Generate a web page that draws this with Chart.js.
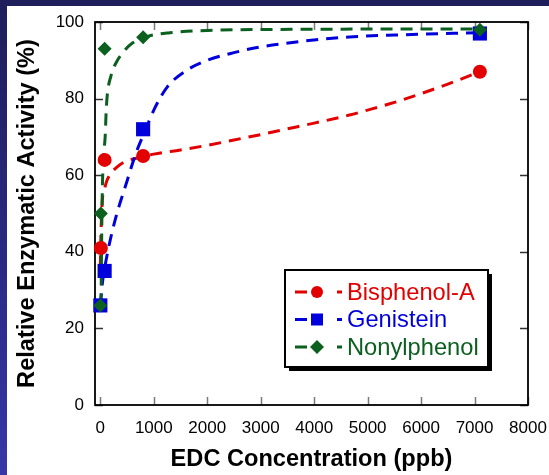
<!DOCTYPE html>
<html>
<head>
<meta charset="utf-8">
<script src="https://cdn.jsdelivr.net/npm/chart.js@4.4.1/dist/chart.umd.min.js"></script>
<style>
  html, body { margin: 0; padding: 0; }
  body {
    width: 549px; height: 475px; overflow: hidden; position: relative;
    background: linear-gradient(to bottom, #1e1e5a 0%, #292983 55%, #3737a8 100%);
  }
  #wrap { position: absolute; left: 7px; top: 6px; width: 542px; height: 469px; background: #fff; }
</style>
</head>
<body>
<div id="wrap"><canvas id="chart" width="542" height="469"></canvas></div>
<script>
// measured points
const seriesNames = ['Bisphenol-A', 'Genistein', 'Nonylphenol'];
const bpaConc = [10, 80, 800, 7100];
const bpaActivity = [41, 64, 65, 87];
const genConc = [0, 80, 800, 7100];
const genActivity = [26, 35, 72, 97];
const npConc = [0, 10, 80, 800, 7100];
const npActivity = [26, 50, 93, 96, 98];

// fitted (dashed) curves
const bpaFitConc = [0, 10, 25, 40, 80, 120, 200, 300, 500, 700, 1000, 1500, 2000, 2500, 3000, 3500, 4000, 4660, 5000, 5500, 6000, 6500, 7100];
const bpaFitActivity = [36, 44, 50, 54, 56.5, 58.5, 60.5, 62, 63.8, 64.5, 65.5, 66.6, 67.8, 69.2, 70.6, 72.1, 73.6, 75.7, 77, 79, 81.3, 83.8, 87];
const genFitConc = [0, 40, 110, 200, 320, 420, 500, 600, 700, 850, 1000, 1250, 1650, 2000, 2500, 3000, 4000, 4660, 5500, 7100];
const genFitActivity = [26, 32, 38, 44, 50.5, 55, 58.5, 63, 67, 72, 77, 83, 87.7, 90, 92, 93.5, 95.3, 96.1, 96.6, 97.2];
const npFitConc = [0, 15, 22, 30, 40, 60, 90, 110, 130, 200, 300, 450, 600, 900, 1300, 2000, 4000, 7100];
const npFitActivity = [26, 30, 40, 50, 58, 65, 70, 77, 81, 86, 89.5, 92.5, 94.5, 96.3, 97.2, 97.8, 98.1, 98.2];

const xTicks = [0, 1000, 2000, 3000, 4000, 5000, 6000, 7000, 8000];
const yTicks = [0, 20, 40, 60, 80, 100];

const RED = '#e20000', BLUE = '#0000dc', GREEN = '#0b5f1f';
const FONT = "'Liberation Sans', Arial, sans-serif";

const pts = (xs, ys) => xs.map((x, i) => ({ x: x, y: ys[i] }));

function markerSet(label, xs, ys, color, style, radius, order) {
    return {
        label: label, data: pts(xs, ys), showLine: false,
        pointStyle: style, pointRadius: radius, pointHoverRadius: radius,
        backgroundColor: color, borderColor: color, borderWidth: 0,
        clip: false, order: order
    };
}

function fitLine(xs, ys, color, order) {
    return {
        data: pts(xs, ys), showLine: true, pointRadius: 0,
        borderColor: color, borderWidth: 3, borderDash: [12, 8],
        cubicInterpolationMode: 'monotone', fill: false, clip: false, order: order
    };
}

function drawMarker(ctx, style, x, y, r) {
    ctx.beginPath();
    if (style === 'circle') ctx.arc(x, y, r, 0, Math.PI * 2);
    else if (style === 'rect') ctx.rect(x - r, y - r, 2 * r, 2 * r);
    else { ctx.moveTo(x - r, y); ctx.lineTo(x, y - r); ctx.lineTo(x + r, y); ctx.lineTo(x, y + r); ctx.closePath(); }
    ctx.fill();
}

// box with inward ticks on all four sides
const framePlugin = {
    id: 'frame',
    beforeDatasetsDraw(chart) {
        const { ctx, chartArea: a, scales: { x, y } } = chart;
        ctx.save();
        ctx.lineWidth = 1.5;
        ctx.strokeStyle = '#7a7a7a';
        xTicks.forEach(v => {
            const px = Math.round(x.getPixelForValue(v)) + 0.5;
            ctx.beginPath();
            ctx.moveTo(px, a.bottom); ctx.lineTo(px, a.bottom - 8);
            ctx.moveTo(px, a.top); ctx.lineTo(px, a.top + 8);
            ctx.stroke();
        });
        ctx.strokeStyle = '#333';
        yTicks.forEach(v => {
            const py = Math.round(y.getPixelForValue(v)) + 0.5;
            ctx.beginPath();
            ctx.moveTo(a.left, py); ctx.lineTo(a.left + 8, py);
            ctx.moveTo(a.right, py); ctx.lineTo(a.right - 8, py);
            ctx.stroke();
        });
        ctx.strokeStyle = '#000';
        ctx.lineWidth = 1.8;
        ctx.strokeRect(a.left, a.top, a.right - a.left, a.bottom - a.top);
        ctx.restore();
    }
};

const legendItems = [
    { name: seriesNames[0], color: RED, style: 'circle', r: 6 },
    { name: seriesNames[1], color: BLUE, style: 'rect', r: 6 },
    { name: seriesNames[2], color: GREEN, style: 'diamond', r: 7 }
];

const legendPlugin = {
    id: 'boxLegend',
    afterDraw(chart) {
        const { ctx, chartArea: a } = chart;
        const w = 203, h = 97;
        const bx = a.right - 40 - w, by = a.top + 248;
        ctx.save();
        ctx.fillStyle = '#000';
        ctx.fillRect(bx + 4, by + 4, w, h);
        ctx.fillStyle = '#fff';
        ctx.fillRect(bx, by, w, h);
        ctx.lineWidth = 2;
        ctx.strokeStyle = '#000';
        ctx.strokeRect(bx, by, w, h);
        ctx.font = '23.7px ' + FONT;
        ctx.textBaseline = 'middle';
        legendItems.forEach((it, i) => {
            const cy = by + 22 + i * 27.5;
            ctx.strokeStyle = it.color;
            ctx.fillStyle = it.color;
            ctx.lineWidth = 3;
            ctx.beginPath();
            ctx.moveTo(bx + 10, cy); ctx.lineTo(bx + 22, cy);
            ctx.moveTo(bx + 52, cy); ctx.lineTo(bx + 57, cy);
            ctx.stroke();
            drawMarker(ctx, it.style, bx + 32, cy, it.r);
            ctx.fillText(it.name, bx + 62, cy + 1);
        });
        ctx.restore();
    }
};

Chart.defaults.font.family = FONT;
Chart.defaults.color = '#000';

new Chart(document.getElementById('chart').getContext('2d'), {
    type: 'scatter',
    data: {
        datasets: [
            markerSet(seriesNames[2], npConc, npActivity, GREEN, 'rectRot', 7, 0),
            markerSet(seriesNames[1], genConc, genActivity, BLUE, 'rect', 10, 1),
            markerSet(seriesNames[0], bpaConc, bpaActivity, RED, 'circle', 7, 2),
            fitLine(npFitConc, npFitActivity, GREEN, 10),
            fitLine(genFitConc, genFitActivity, BLUE, 11),
            fitLine(bpaFitConc, bpaFitActivity, RED, 12)
        ]
    },
    options: {
        responsive: false,
        animation: false,
        layout: { padding: { left: 0, top: 16, right: 21, bottom: 0 } },
        scales: {
            x: {
                type: 'linear', min: -100, max: 8000,
                afterBuildTicks: s => { s.ticks = xTicks.map(v => ({ value: v })); },
                afterFit: s => { s.height = 70; s.paddingLeft = 0; s.paddingRight = 0; },
                grid: { display: false, drawTicks: false },
                border: { display: false },
                ticks: {
                    font: { size: 17 }, color: '#000', padding: 13, maxRotation: 0, autoSkip: false,
                    callback: v => String(v)
                },
                title: {
                    display: true, text: 'EDC Concentration (ppb)', color: '#000',
                    font: { size: 23.6, weight: 'bold' }, padding: { top: 0, bottom: 1 }
                }
            },
            y: {
                type: 'linear', min: 0, max: 100,
                afterBuildTicks: s => { s.ticks = yTicks.map(v => ({ value: v })); },
                afterFit: s => { s.width = 88; s.paddingTop = 0; s.paddingBottom = 0; },
                grid: { display: false, drawTicks: false },
                border: { display: false },
                ticks: { font: { size: 17 }, color: '#000', padding: 11, callback: v => String(v) },
                title: {
                    display: true, text: 'Relative Enzymatic Activity (%)', color: '#000',
                    font: { size: 23.6, weight: 'bold' }, padding: { top: 6, bottom: 0 }
                }
            }
        },
        plugins: {
            legend: { display: false },
            tooltip: { enabled: false }
        }
    },
    plugins: [framePlugin, legendPlugin]
});
</script>
</body>
</html>
